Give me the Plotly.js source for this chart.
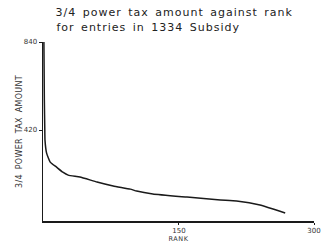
<!DOCTYPE html>
<html>
<head>
<meta charset="utf-8">
<script src="https://cdn.plot.ly/plotly-3.0.1.min.js"></script>
<style>
html,body{margin:0;padding:0;background:#fff;}
#chart{width:323px;height:247px;}
#chart .annotation-text{letter-spacing:1px;word-spacing:2px;}
#chart .ytitle{letter-spacing:0.3px;word-spacing:2px;}
#chart .xtitle{letter-spacing:0.5px;}
</style>
</head>
<body>
<div id="chart"></div>
<script>
// Rank of entry (x) and 3/4 power tax amount (y)
const rank = [0, 0.5, 1, 1.2, 3, 7, 14, 21, 27, 40, 59, 77, 96, 103, 121, 159, 196, 214, 240, 268];
const taxAmount = [840, 563, 420, 372, 310, 267, 243, 219, 205, 196, 172, 153, 138, 129, 115, 100, 86, 81, 62, 24];
const xTickVals = [150, 300];
const xTickText = ['150', '300'];
const yTickVals = [420, 840];
const yTickText = ['420', '840'];
const titleLines = ['3/4 power tax amount against rank', 'for entries in 1334 Subsidy'];

const font = 'DejaVu Sans, sans-serif';
const trace = {
  x: rank, y: taxAmount, type: 'scatter', mode: 'lines',
  line: {color: '#1a1a1a', width: 1.5, shape: 'spline', smoothing: 0.4},
  hoverinfo: 'skip'
};
const titleY = [13, 28];
const titleCx = [174, 148];
const layout = {
  width: 323, height: 247,
  margin: {l: 43, r: 9, t: 42, b: 26},
  paper_bgcolor: '#ffffff', plot_bgcolor: '#ffffff',
  showlegend: false,
  annotations: titleLines.map((t, i) => ({
    text: t, xref: 'paper', yref: 'paper', showarrow: false,
    x: (titleCx[i] - 43) / 271, xanchor: 'center',
    y: 1 + (42 - titleY[i]) / 179, yanchor: 'middle',
    font: {family: font, size: 11, color: '#222'}
  })),
  xaxis: {
    range: [-1, 300], tickvals: xTickVals, ticktext: xTickText,
    showgrid: false, zeroline: false, showline: true, linecolor: '#1a1a1a', linewidth: 1.5,
    ticks: 'outside', ticklen: 2, tickcolor: '#1a1a1a',
    tickfont: {family: font, size: 7, color: '#333'},
    title: {text: 'RANK', font: {family: font, size: 6.5, color: '#333'}, standoff: 0}
  },
  yaxis: {
    range: [-14, 840], tickvals: yTickVals, ticktext: yTickText,
    showgrid: false, zeroline: false, showline: true, linecolor: '#1a1a1a', linewidth: 1.5,
    ticks: 'outside', ticklen: 3, tickcolor: '#1a1a1a',
    tickfont: {family: font, size: 7, color: '#333'},
    title: {text: '3/4 POWER TAX AMOUNT', font: {family: font, size: 8, color: '#333'}, standoff: 0}
  }
};
Plotly.newPlot('chart', [trace], layout, {displayModeBar: false, staticPlot: true});
</script>
</body>
</html>
